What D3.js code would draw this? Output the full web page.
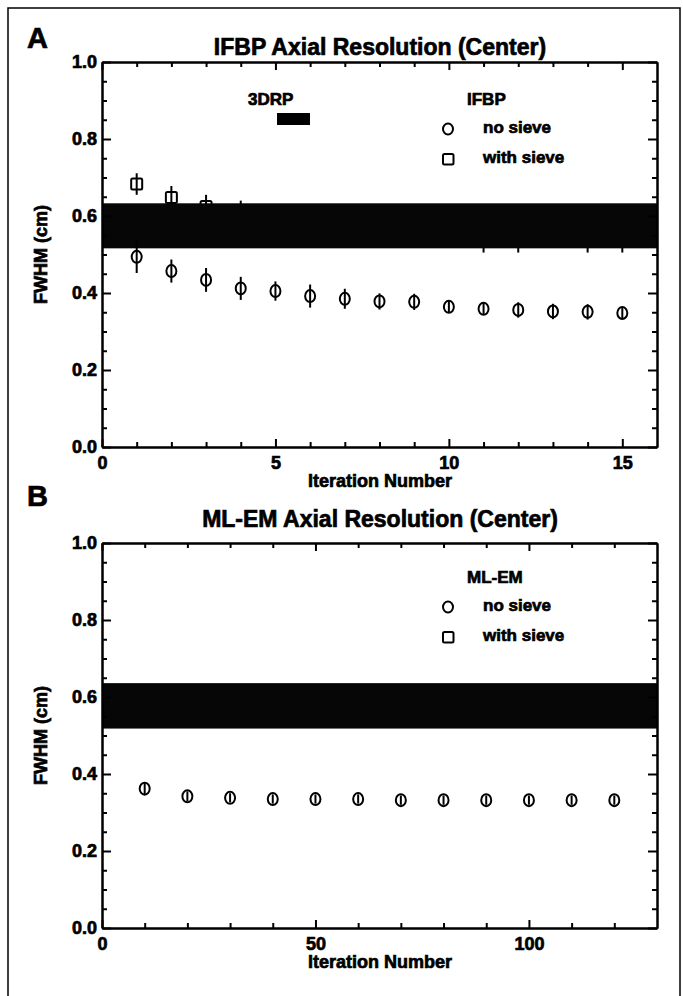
<!DOCTYPE html>
<html>
<head>
<meta charset="utf-8">
<script src="https://cdn.jsdelivr.net/npm/d3@7"></script>
<style>
  body { margin: 0; background: #fff; }
  text { font-family: "Liberation Sans", Arial, sans-serif; font-weight: bold; fill: #000;
         stroke: #000; stroke-width: 0.7px; }
</style>
</head>
<body>
<svg></svg>
<script>
// panel A: IFBP, iterations 1..15
const ifbpIters = [1, 2, 3, 4, 5, 6, 7, 8, 9, 10, 11, 12, 13, 14, 15];
const ifbpNoSieve = [0.494, 0.457, 0.434, 0.412, 0.405, 0.392, 0.385, 0.378, 0.377, 0.364, 0.359, 0.356, 0.352, 0.351, 0.348];
const ifbpNoSieveErr = [0.042, 0.030, 0.031, 0.030, 0.025, 0.030, 0.026, 0.021, 0.021, 0.015, 0.016, 0.020, 0.020, 0.020, 0.015];
const ifbpSieve = [0.683, 0.648, 0.625, 0.605, 0.595, 0.590, 0.585, 0.580, 0.578, 0.575, 0.555, 0.555, 0.560, 0.555, 0.555];
const ifbpSieveErr = [0.028, 0.030, 0.030, 0.035, 0.030, 0.030, 0.030, 0.030, 0.030, 0.030, 0.050, 0.050, 0.035, 0.050, 0.050];

// panel B: ML-EM, iterations 10..120
const emIters = [10, 20, 30, 40, 50, 60, 70, 80, 90, 100, 110, 120];
const emNoSieve = [0.362, 0.342, 0.338, 0.335, 0.335, 0.335, 0.332, 0.332, 0.332, 0.332, 0.332, 0.332];
const emNoSieveErr = [0.014, 0.013, 0.012, 0.012, 0.012, 0.012, 0.012, 0.012, 0.012, 0.012, 0.012, 0.012];
const emSieve = [0.590, 0.585, 0.582, 0.580, 0.580, 0.578, 0.578, 0.578, 0.577, 0.577, 0.577, 0.577];
const emSieveErr = [0.020, 0.020, 0.020, 0.020, 0.020, 0.020, 0.020, 0.020, 0.020, 0.020, 0.020, 0.020];

// 3DRP reference range (FWHM lower / upper)
const drpBandA = [0.516, 0.633];
const drpBandB = [0.518, 0.636];

// ticks
const yTicks = [0.0, 0.2, 0.4, 0.6, 0.8, 1.0];
const yMinor = [0.05, 0.1, 0.15, 0.25, 0.3, 0.35, 0.45, 0.5, 0.55, 0.65, 0.7, 0.75, 0.85, 0.9, 0.95];
const xTicksA = [0, 5, 10, 15];
const xMinorA = [1, 2, 3, 4, 6, 7, 8, 9, 11, 12, 13, 14];
const xTicksB = [0, 50, 100];
const xMinorB = [10, 20, 30, 40, 60, 70, 80, 90, 110, 120];

const W = 683, H = 996;
const svg = d3.select('svg').attr('width', W).attr('height', H);

// outer frame
svg.append('rect')
  .attr('x', 8).attr('y', 8).attr('width', 672).attr('height', 1010)
  .attr('fill', 'none').attr('stroke', '#000').attr('stroke-width', 1.5);

function drawPanel(p) {
  const x = d3.scaleLinear().domain(p.xDomain).range([102, 657]);
  const y = d3.scaleLinear().domain([0, 1]).range([p.bottom, p.top]);
  const g = svg.append('g');

  // with sieve: squares + error bars (mostly hidden by 3DRP band)
  const sq = p.iters.map((d, i) => ({ x: d, v: p.sieve[i], e: p.sieveErr[i] }));
  g.selectAll('.sqerr').data(sq).enter().append('line')
    .attr('x1', d => x(d.x)).attr('x2', d => x(d.x))
    .attr('y1', d => y(d.v - d.e)).attr('y2', d => y(d.v + d.e))
    .attr('stroke', '#000').attr('stroke-width', 2);
  g.selectAll('.sq').data(sq).enter().append('rect')
    .attr('x', d => x(d.x) - 5.5).attr('y', d => y(d.v) - 5.5)
    .attr('width', 11).attr('height', 11).attr('rx', 1.5)
    .attr('fill', 'none').attr('stroke', '#000').attr('stroke-width', 2);

  // 3DRP band
  g.append('rect')
    .attr('x', x(p.xDomain[0])).attr('width', x(p.xDomain[1]) - x(p.xDomain[0]))
    .attr('y', y(p.band[1])).attr('height', y(p.band[0]) - y(p.band[1]))
    .attr('fill', '#060606');

  // no sieve: circles + error bars
  const ci = p.iters.map((d, i) => ({ x: d, v: p.noSieve[i], e: p.noSieveErr[i] }));
  g.selectAll('.cierr').data(ci).enter().append('line')
    .attr('x1', d => x(d.x)).attr('x2', d => x(d.x))
    .attr('y1', d => y(d.v - d.e)).attr('y2', d => y(d.v + d.e))
    .attr('stroke', '#000').attr('stroke-width', 2);
  g.selectAll('.ci').data(ci).enter().append('ellipse')
    .attr('cx', d => x(d.x)).attr('cy', d => y(d.v))
    .attr('rx', 5).attr('ry', 6)
    .attr('fill', 'none').attr('stroke', '#000').attr('stroke-width', 2);

  // axes, ticks pointing inward on all four sides
  const fmt = d3.format('.1f');
  const left = g.append('g').attr('transform', `translate(${x.range()[0]},0)`);
  left.call(d3.axisLeft(y).tickValues(yTicks).tickFormat(fmt).tickSizeInner(-9).tickSizeOuter(0).tickPadding(5));
  left.append('g').call(d3.axisLeft(y).tickValues(yMinor).tickFormat('').tickSizeInner(-5).tickSizeOuter(0));

  const right = g.append('g').attr('transform', `translate(${x.range()[1]},0)`);
  right.call(d3.axisRight(y).tickValues(yTicks).tickFormat('').tickSizeInner(-9).tickSizeOuter(0));
  right.append('g').call(d3.axisRight(y).tickValues(yMinor).tickFormat('').tickSizeInner(-5).tickSizeOuter(0));

  const bottom = g.append('g').attr('transform', `translate(0,${p.bottom})`);
  bottom.call(d3.axisBottom(x).tickValues(p.xTicks).tickFormat(d3.format('d')).tickSizeInner(-8).tickSizeOuter(0).tickPadding(9));
  bottom.append('g').call(d3.axisBottom(x).tickValues(p.xMinor).tickFormat('').tickSizeInner(-5).tickSizeOuter(0));

  const top = g.append('g').attr('transform', `translate(0,${p.top})`);
  top.call(d3.axisTop(x).tickValues(p.xTicks).tickFormat('').tickSizeInner(-8).tickSizeOuter(0));
  top.append('g').call(d3.axisTop(x).tickValues(p.xMinor).tickFormat('').tickSizeInner(-5).tickSizeOuter(0));

  g.selectAll('.domain').attr('stroke', '#000').attr('stroke-width', 2);
  g.selectAll('.tick line').attr('stroke', '#000').attr('stroke-width', 2);
  g.selectAll('.tick text').style('font-size', '18px').attr('fill', '#000');

  // titles and labels
  g.append('text').attr('x', 27).attr('y', p.letterY)
    .style('font-size', '29px').text(p.letter);
  g.append('text').attr('x', 380).attr('y', p.titleY).attr('text-anchor', 'middle')
    .style('font-size', '23px').text(p.title);
  g.append('text').attr('x', 380).attr('y', p.bottom + 40).attr('text-anchor', 'middle')
    .style('font-size', '18px').text('Iteration Number');
  g.append('text')
    .attr('transform', `translate(47,${(p.top + p.bottom) / 2}) rotate(-90)`)
    .attr('text-anchor', 'middle').style('font-size', '18px').text('FWHM (cm)');

  // legend
  const L = p.legend;
  g.append('text').attr('x', 467).attr('y', L.y + 6).style('font-size', '17px').text(L.head);
  g.append('ellipse').attr('cx', 448).attr('cy', L.y + 30).attr('rx', 5).attr('ry', 5.5)
    .attr('fill', 'none').attr('stroke', '#000').attr('stroke-width', 2);
  g.append('text').attr('x', 483).attr('y', L.y + 34).style('font-size', '17px').text('no sieve');
  g.append('rect').attr('x', 443).attr('y', L.y + 55).attr('width', 10.5).attr('height', 10.5).attr('rx', 1.5)
    .attr('fill', 'none').attr('stroke', '#000').attr('stroke-width', 2);
  g.append('text').attr('x', 483).attr('y', L.y + 64).style('font-size', '17px').text('with sieve');
  if (L.drp) {
    g.append('text').attr('x', 248).attr('y', L.y + 6).style('font-size', '17px').text('3DRP');
    g.append('rect').attr('x', 277).attr('y', L.y + 14).attr('width', 33).attr('height', 12).attr('fill', '#000');
  }
}

drawPanel({
  top: 62, bottom: 447, xDomain: [0, 16], xTicks: xTicksA, xMinor: xMinorA,
  iters: ifbpIters, noSieve: ifbpNoSieve, noSieveErr: ifbpNoSieveErr,
  sieve: ifbpSieve, sieveErr: ifbpSieveErr, band: drpBandA,
  letter: 'A', letterY: 48, title: 'IFBP Axial Resolution (Center)', titleY: 55,
  legend: { y: 99, head: 'IFBP', drp: true }
});

drawPanel({
  top: 543, bottom: 928, xDomain: [0, 130], xTicks: xTicksB, xMinor: xMinorB,
  iters: emIters, noSieve: emNoSieve, noSieveErr: emNoSieveErr,
  sieve: emSieve, sieveErr: emSieveErr, band: drpBandB,
  letter: 'B', letterY: 506, title: 'ML-EM Axial Resolution (Center)', titleY: 527,
  legend: { y: 577, head: 'ML-EM', drp: false }
});
</script>
</body>
</html>
